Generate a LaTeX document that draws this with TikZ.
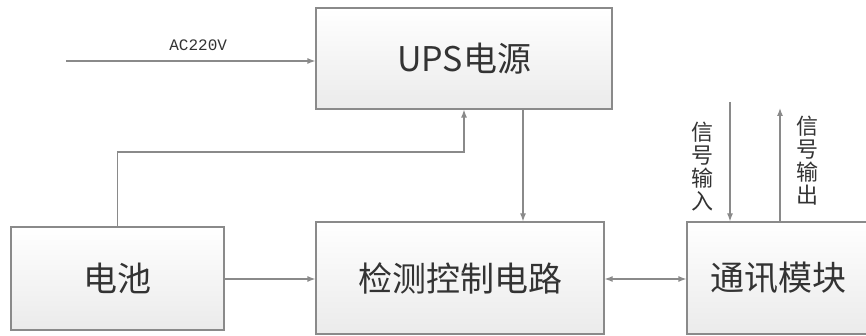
\documentclass[tikz,border=0pt]{standalone}
\usepackage{fontspec}
\newfontfamily\cjk{Noto Sans CJK SC}
\newfontfamily\acfont{Liberation Mono}
\usetikzlibrary{arrows.meta}
\definecolor{linegray}{HTML}{8A8A8A}
\definecolor{txtgray}{HTML}{333333}
\tikzset{block/.style={draw=linegray, line width=1.2pt, top color=white, bottom color=black!8, text=txtgray, font=\cjk\fontsize{34}{40}\selectfont, inner sep=0pt},
  wire/.style={draw=linegray, line width=1.2pt},
  arr/.style={wire, -{Latex[length=8pt,width=6pt]}},
  vlabel/.style={text=txtgray, font=\cjk\fontsize{22}{23}\selectfont, align=center, inner sep=0pt}}

\begin{document}
\begin{tikzpicture}[x=1pt,y=-1pt]
\useasboundingbox (0,0) rectangle (866,336);
\node[block, minimum width=296pt, minimum height=101pt] (ups) at (464,58.5) {UPS电源};
\node[block, minimum width=213pt, minimum height=103pt] (bat) at (117.5,278.5) {电池};
\node[block, minimum width=288pt, minimum height=112pt] (det) at (460,278) {检测控制电路};
\node[block, minimum width=200pt, minimum height=112pt, text width=154pt, align=left] (com) at (787,278) {通讯模块};
\coordinate (acin) at (66,61);
\coordinate (sigin) at (730,102);
\coordinate (sigout) at (780,108);
\draw[arr] (acin) -- (acin -| ups.west) node[pos=0.53, above=10pt, text=txtgray, font=\acfont\fontsize{16}{18}\selectfont, inner sep=0pt] {AC220V};
\draw[arr] (bat.north) |- (117.5,152) -| (ups.south);
\draw[arr] ([xshift=59pt]ups.south) -- ([xshift=59pt]ups.south |- det.north);
\draw[arr] (bat.east |- 0,279) -- (det.west |- 0,279);
\draw[wire, {Latex[length=8pt,width=6pt]}-{Latex[length=8pt,width=6pt]}] (det.east |- 0,279) -- (com.west |- 0,279);
\draw[arr] (sigin) -- (sigin |- com.north);
\draw[arr] (sigout |- com.north) -- (sigout);
\node[vlabel] (inlab) at (702,166.5) {信\\号\\输\\入};
\node[vlabel] (outlab) at (807,161) {信\\号\\输\\出};
\end{tikzpicture}
\end{document}
